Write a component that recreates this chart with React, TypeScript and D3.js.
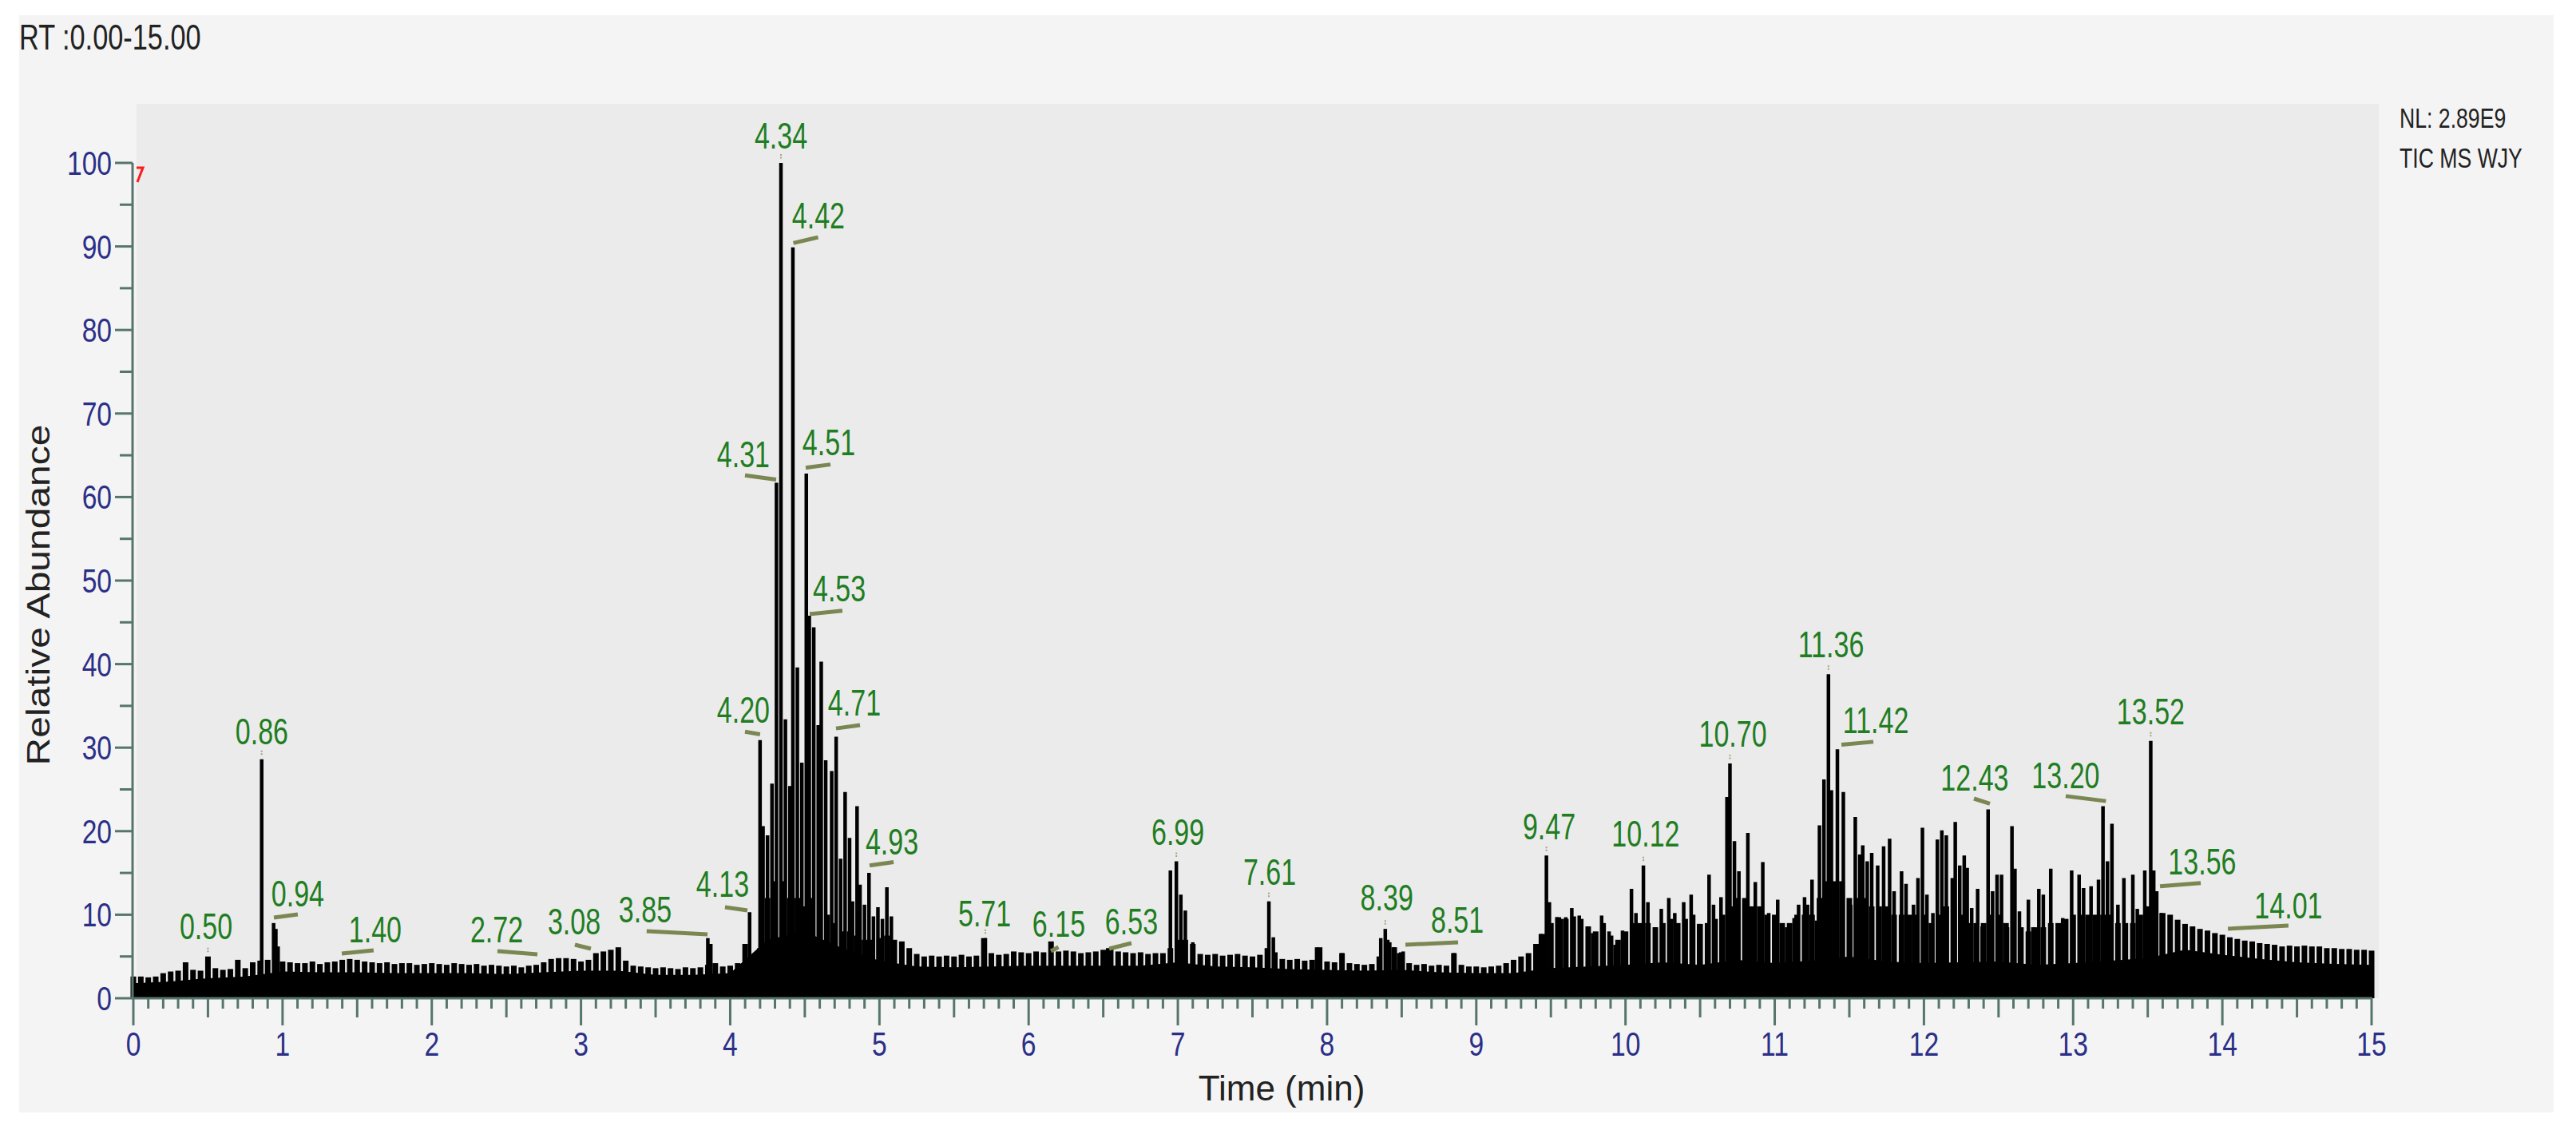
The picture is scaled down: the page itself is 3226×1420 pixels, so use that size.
import * as d3 from 'd3'
import { useEffect } from 'react'

// dense background trace, one top value every 0.05 min from 0 to 15
const noiseStep = 0.05
const noiseTops = [
    2.6, 2.6, 2.5, 2.6, 3.0, 3.2, 3.3, 4.3, 3.4, 3.3, 5.0, 3.6, 3.4, 3.5, 4.6, 3.6, 4.3, 4.5, 4.6, 6.2,
    4.4, 4.3, 4.2, 4.2, 4.4, 4.1, 4.3, 4.4, 4.6, 4.7, 4.6, 4.4, 4.3, 4.2, 4.3, 4.1, 4.2, 4.2, 4.0, 4.1,
    4.2, 4.1, 4.0, 4.2, 4.1, 4.0, 4.1, 3.9, 4.0, 3.9, 3.8, 3.9, 3.7, 3.9, 4.0, 4.3, 4.7, 4.8, 4.8, 4.7,
    4.4, 4.6, 5.4, 5.6, 5.8, 6.1, 4.5, 3.9, 3.8, 3.7, 3.6, 3.7, 3.6, 3.5, 3.7, 3.6, 3.7, 4.0, 4.2, 3.8,
    3.9, 4.2, 6.5, 4.8, 6.0, 12, 14, 14, 12, 12, 11, 12, 11, 10, 9, 8, 8, 7.5, 7, 7,
    7.2, 7.5, 7.0, 6.8, 6.0, 5.3, 5.0, 5.1, 5.0, 5.1, 5.0, 5.2, 5.0, 5.1, 7.2, 5.4, 5.2, 5.3, 5.6, 5.5,
    5.4, 5.6, 5.5, 6.8, 5.6, 5.7, 5.6, 5.4, 5.5, 5.6, 5.8, 5.9, 5.6, 5.5, 5.4, 5.5, 5.3, 5.4, 5.4, 6.0,
    7.0, 7.0, 6.5, 5.3, 5.2, 5.3, 5.1, 5.2, 5.3, 5.1, 5.0, 5.2, 6.0, 5.5, 4.7, 4.6, 4.7, 4.5, 4.6, 6.1,
    4.4, 4.3, 5.4, 4.2, 4.1, 4.0, 4.1, 5.0, 7.0, 6.1, 5.5, 4.2, 4.0, 4.1, 3.9, 4.0, 3.9, 5.4, 4.0, 3.8,
    3.8, 3.7, 3.8, 3.9, 4.2, 4.6, 5.0, 5.4, 6.5, 7.7, 9.0, 9.7, 9.5, 9.8, 9.5, 8.6, 8.0, 9.0, 7.5, 7.0,
    8.0, 9.0, 9.0, 9.0, 8.5, 9.0, 9.5, 9.0, 9.5, 10, 8.9, 9.0, 9.5, 10, 11, 12, 12, 11, 11, 10,
    10, 9, 9, 10, 10, 10, 12, 14, 14, 14, 12, 12, 12, 11, 11, 11, 10, 10, 10, 10,
    10, 9, 10, 11, 11, 10, 9, 9, 9, 10, 10, 9, 9, 8.5, 8, 8.5, 8.5, 9, 9, 9.5,
    10, 10, 10, 10, 10, 10, 9, 9, 9, 10, 11, 12, 10.2, 10.0, 9.4, 8.9, 8.6, 8.3, 8.1, 7.8,
    7.6, 7.3, 7.1, 6.9, 6.8, 6.6, 6.5, 6.4, 6.2, 6.3, 6.2, 6.3, 6.2, 6.2, 6.0, 6.0, 5.9, 5.9, 5.8, 5.8,
    5.7,
]

// solid black base of the trace, every 0.25 min
const floorStep = 0.25
const floorLevels = [
    1.8, 2.0, 2.4, 2.6, 3.2, 3.1, 3.1, 3.0, 3.0, 3.0, 2.9, 3.1, 3.3, 3.3, 2.8, 2.8,
    3.0, 7, 8, 6, 4.5, 3.8, 3.7, 3.8, 3.9, 3.9, 3.9, 3.9, 4.3, 3.8, 3.7, 3.5,
    3.4, 3.3, 3.4, 3.1, 3.0, 3.0, 3.6, 3.8, 4.0, 4.3, 4.0, 4.6, 4.2, 4.5, 5.0, 4.4,
    4.2, 4.3, 4.4, 4.0, 4.2, 4.5, 4.8, 5.8, 5.2, 4.7, 4.3, 4.1, 4.0,
]

// individual scans standing out of the background
const spikeTimes = [
    0.86, 0.94, 0.955, 0.97, 3.85, 3.87, 4.10, 4.13,
    4.20, 4.22, 4.25, 4.28, 4.31, 4.34, 4.37, 4.40, 4.42, 4.45, 4.48, 4.51, 4.53, 4.56, 4.59, 4.61,
    4.64, 4.68, 4.71, 4.74, 4.77, 4.80, 4.82, 4.85, 4.87, 4.90, 4.93, 4.96, 4.99, 5.02, 5.05, 5.08,
    5.71, 6.53, 6.95, 6.99, 7.02, 7.05, 7.10, 7.61, 7.64, 7.93, 8.10,
    8.36, 8.39, 8.42, 8.45, 8.48, 8.51, 8.85,
    9.43, 9.47, 9.49, 9.54, 9.57, 9.60, 9.64, 9.69, 9.75, 9.78, 9.84, 9.89, 9.93, 9.98,
    10.04, 10.07, 10.12, 10.15, 10.20, 10.24, 10.29, 10.33, 10.39, 10.44, 10.49, 10.56, 10.59, 10.64,
    10.68, 10.70, 10.73, 10.76, 10.82, 10.87, 10.92, 10.96, 11.02, 11.08, 11.13, 11.16, 11.20, 11.22,
    11.25, 11.28, 11.30, 11.33, 11.36, 11.38, 11.42, 11.46, 11.51, 11.54, 11.57, 11.59, 11.62, 11.65,
    11.69, 11.73, 11.77, 11.80, 11.85, 11.88, 11.93, 11.96, 11.99, 12.02, 12.06, 12.09, 12.12, 12.15,
    12.19, 12.21, 12.24, 12.27, 12.29, 12.32, 12.36, 12.39, 12.43, 12.46, 12.49, 12.52, 12.56, 12.59,
    12.61, 12.64, 12.70, 12.73, 12.77, 12.80, 12.85, 12.90, 12.93, 12.99, 13.04, 13.07, 13.12, 13.17,
    13.20, 13.23, 13.26, 13.30, 13.34, 13.40, 13.43, 13.48, 13.52, 13.54, 13.56, 13.59,
]
const spikeTops = [
    28.6, 9.0, 8.3, 6.2, 7.2, 6.5, 6.5, 10.3,
    30.9, 20.6, 19.5, 25.7, 61.7, 100, 33.4, 25.4, 89.9, 39.6, 28.2, 62.8, 45.8, 44.4, 32.7, 40.3,
    28.5, 27.2, 31.3, 16.7, 24.7, 19.2, 11.6, 23.0, 13.6, 11.2, 15.0, 9.8, 10.9, 9.5, 13.3, 9.8,
    7.2, 6.0, 15.3, 16.4, 12.4, 10.5, 6.7, 11.6, 7.3, 6.1, 5.4,
    7.2, 8.3, 6.7, 6.1, 5.4, 5.6, 5.4,
    7.7, 17.1, 11.5, 9.7, 9.5, 9.7, 10.8, 9.9, 8.6, 7.8, 9.9, 8.0, 6.4, 8.1,
    13.1, 10.2, 15.9, 11.5, 8.5, 10.7, 12.0, 10.2, 11.5, 12.4, 8.9, 14.8, 11.2, 12.1,
    24.1, 28.1, 18.8, 15.2, 19.8, 13.9, 16.3, 10.2, 11.8, 8.5, 9.6, 11.2, 12.1, 11.2,
    14.2, 9.3, 20.7, 26.2, 38.8, 24.9, 29.8, 24.7, 11.2, 21.7, 17.2, 18.3, 16.4, 17.4,
    15.9, 18.2, 19.1, 12.8, 15.2, 13.7, 11.2, 14.4, 20.4, 12.4, 10.2, 19.0, 20.1, 19.5,
    14.4, 21.1, 15.9, 17.1, 15.6, 10.8, 13.1, 8.6, 22.6, 12.8, 14.8, 14.8, 8.5, 20.6,
    15.5, 10.4, 11.8, 8.5, 13.1, 12.4, 15.5, 8.9, 9.6, 15.3, 14.8, 13.2, 13.4, 14.2,
    23.0, 16.4, 20.9, 11.2, 14.4, 14.8, 10.7, 15.3, 30.8, 15.3, 12.8, 10.2,
]

// peak annotations: label, apex height, label anchor (time, abundance), leader line or tick mark
const peakLabels = [
    '0.50', '0.86', '0.94', '1.40', '2.72', '3.08', '3.85', '4.13', '4.20', '4.31', '4.34',
    '4.42', '4.51', '4.53', '4.71', '4.93', '5.71', '6.15', '6.53', '6.99', '7.61', '8.39',
    '8.51', '9.47', '10.12', '10.70', '11.36', '11.42', '12.43', '13.20', '13.52', '13.56', '14.01',
]
const peakApex = [
    5.0, 28.6, 9.0, 4.6, 4.0, 4.6, 7.2, 10.3, 30.9, 61.7, 100,
    89.9, 62.8, 45.8, 31.3, 15.0, 7.2, 6.8, 6.0, 16.4, 11.6, 8.3,
    5.6, 17.1, 15.9, 28.1, 38.8, 29.8, 22.6, 23.0, 30.8, 12.8, 7.6,
]
const labelTimes = [
    0.487, 0.861, 1.102, 1.621, 2.435, 2.954, 3.43, 3.949, 4.088, 4.088, 4.34,
    4.591, 4.661, 4.731, 4.832, 5.084, 5.705, 6.202, 6.689, 7.0, 7.615, 8.40,
    8.873, 9.488, 10.135, 10.719, 11.377, 11.677, 12.34, 12.95, 13.52, 13.865, 14.443,
]
const labelLevels = [
    7.1, 30.4, 11.0, 6.7, 6.7, 7.65, 9.1, 12.1, 33.0, 63.6, 101.7,
    92.2, 65.0, 47.5, 33.8, 17.2, 8.6, 7.4, 7.65, 18.4, 13.6, 10.5,
    7.85, 19.0, 18.2, 30.1, 40.8, 31.7, 24.9, 25.1, 32.8, 14.8, 9.56,
]
// leader line [t1, v1, t2, v2]; null -> small tick over the apex
const leaders = [
    null, null, [0.942, 9.66, 1.102, 10.04], [1.397, 5.35, 1.61, 5.74], [2.44, 5.64, 2.708, 5.26],
    [2.959, 6.41, 3.066, 5.93], [3.44, 8.03, 3.848, 7.65], [3.965, 10.9, 4.115, 10.52],
    [4.099, 31.9, 4.2, 31.6], [4.099, 62.6, 4.308, 62.1], null,
    [4.423, 90.4, 4.589, 91.1], [4.506, 63.5, 4.672, 63.9], [4.533, 46.0, 4.752, 46.4],
    [4.709, 32.3, 4.87, 32.7], [4.934, 15.9, 5.095, 16.3], null, [6.149, 5.64, 6.2, 6.12],
    [6.54, 5.93, 6.689, 6.6], null, null, null, [8.525, 6.41, 8.878, 6.69], null, null, null, null,
    [11.447, 30.35, 11.661, 30.7], [12.335, 23.9, 12.442, 23.3], [12.95, 24.2, 13.22, 23.6], null,
    [13.582, 13.4, 13.855, 13.8], [14.037, 8.32, 14.443, 8.7],
]

const timeTicks = [0, 1, 2, 3, 4, 5, 6, 7, 8, 9, 10, 11, 12, 13, 14, 15]
const abundanceTicks = [0, 10, 20, 30, 40, 50, 60, 70, 80, 90, 100]

const FONT = "'Liberation Sans', Arial, sans-serif"
const AXIS = '#56756c'
const NAVY = '#2b2f87'
const GREEN = '#1f7d22'
const LEADER = '#7a8753'

function Label({ x, y, size, anchor = 'start', fill = '#222', rotate = 0, sx = 0.74, children }) {
    return (
        <text
            transform={`translate(${x},${y}) scale(${sx},1)${rotate ? ` rotate(${rotate})` : ''}`}
            fontSize={size}
            fontFamily={FONT}
            textAnchor={anchor}
            fill={fill}
        >
            {children}
        </text>
    )
}

export default function App() {
    useEffect(() => {
        document.body.style.margin = '0'
        document.body.style.overflow = 'hidden'
    }, [])

    const x = d3.scaleLinear().domain([0, 15]).range([167, 2970])
    const y = d3.scaleLinear().domain([0, 100]).range([1250, 204])

    const floorArea = d3
        .area()
        .x((d, i) => x(i * floorStep))
        .y0(y(0))
        .y1((d) => y(d))(floorLevels)

    const minorTimes = d3.range(0, 151).map((i) => i / 10)
    const minorAbund = d3.range(0, 21).map((i) => i * 5)

    return (
        <svg width={3226} height={1420} style={{ position: 'absolute', left: 0, top: 0, display: 'block' }}>
            <rect x={0} y={0} width={3226} height={1420} fill="#ffffff" />
            <rect x={24} y={19} width={3174} height={1374} fill="#f4f4f4" />
            <rect x={x(0) + 4} y={130} width={x(15) + 9 - x(0) - 4} height={y(0) - 130} fill="#ebebeb" />

            <Label x={24} y={62} size={44} sx={0.78}>RT :0.00-15.00</Label>
            <Label x={3005} y={160} size={36}>NL: 2.89E9</Label>
            <Label x={3005} y={210} size={36}>TIC  MS  WJY</Label>

            {/* trace */}
            <path d={floorArea} fill="#000" />
            <g stroke="#000" strokeWidth={7}>
                {noiseTops.map((v, i) => (
                    <line key={i} x1={x(i * noiseStep)} x2={x(i * noiseStep)} y1={y(0)} y2={y(v)} />
                ))}
            </g>
            <g stroke="#000" strokeWidth={4.5}>
                {spikeTimes.map((t, i) => (
                    <line key={i} x1={x(t)} x2={x(t)} y1={y(0)} y2={y(spikeTops[i])} />
                ))}
            </g>

            {/* y axis */}
            <g stroke={AXIS} strokeWidth={3}>
                <line x1={x(0) - 1} x2={x(0) - 1} y1={y(100)} y2={y(0)} />
                {minorAbund.map((v) => (
                    <line key={v} x1={v % 10 === 0 ? 144 : 150} x2={x(0) - 1} y1={y(v)} y2={y(v)} />
                ))}
            </g>
            {abundanceTicks.map((v) => (
                <Label key={v} x={140} y={y(v) + 15} size={42} sx={0.8} anchor="end" fill={NAVY}>
                    {v}
                </Label>
            ))}

            {/* x axis */}
            <g stroke={AXIS} strokeWidth={3}>
                <line x1={x(0) - 2} x2={x(15) + 1} y1={y(0)} y2={y(0)} />
                {minorTimes.map((t, i) => (
                    <line
                        key={i}
                        x1={x(t)}
                        x2={x(t)}
                        y1={y(0)}
                        y2={y(0) + (i % 10 === 0 ? 34 : i % 5 === 0 ? 24 : 13)}
                    />
                ))}
            </g>
            {timeTicks.map((t) => (
                <Label key={t} x={x(t)} y={1322} size={42} sx={0.8} anchor="middle" fill={NAVY}>
                    {t}
                </Label>
            ))}
            <Label x={1605} y={1378} size={44} sx={1} anchor="middle">Time (min)</Label>
            <Label x={62} y={745} size={48} sx={0.85} anchor="middle" rotate={-90}>Relative Abundance</Label>

            <path d={`M${x(0) + 4},${y(100) + 6} L${x(0) + 12},${y(100) + 6} L${x(0) + 5},${y(100) + 24}`} fill="none" stroke="#ff1a1a" strokeWidth={3} />

            {/* peak annotations */}
            {peakLabels.map((lab, i) => {
                const ld = leaders[i]
                const px = x(parseFloat(lab))
                return (
                    <g key={lab}>
                        {ld ? (
                            <line x1={x(ld[0])} y1={y(ld[1])} x2={x(ld[2])} y2={y(ld[3])} stroke={LEADER} strokeWidth={5} />
                        ) : (
                            <line x1={px} x2={px} y1={y(peakApex[i]) - 11} y2={y(peakApex[i]) - 4} stroke="#a3a67c" strokeWidth={2} strokeDasharray="2 1.5" />
                        )}
                        <Label x={x(labelTimes[i])} y={y(labelLevels[i])} size={46} anchor="middle" fill={GREEN}>
                            {lab}
                        </Label>
                    </g>
                )
            })}
        </svg>
    )
}
